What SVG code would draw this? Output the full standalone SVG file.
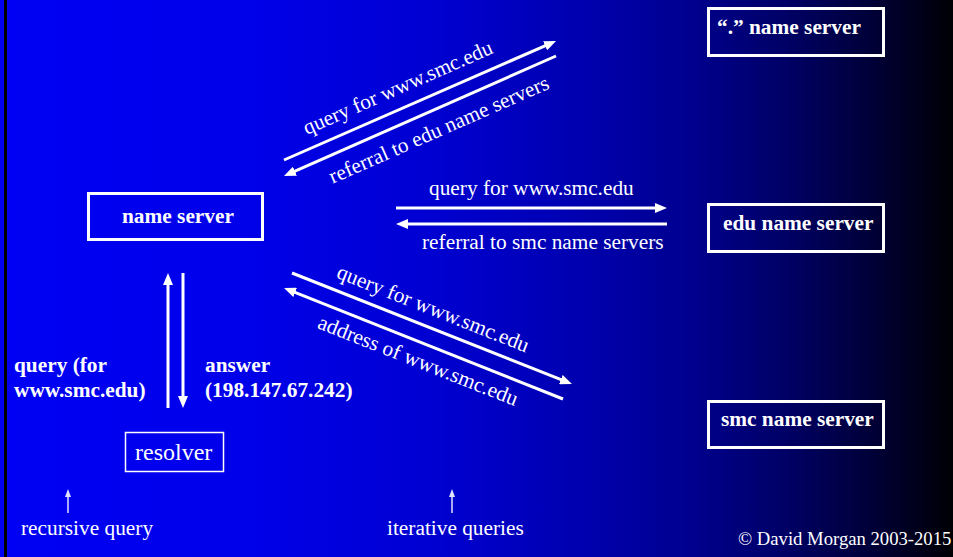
<svg xmlns="http://www.w3.org/2000/svg" width="953" height="557" viewBox="0 0 953 557">
<defs>
<linearGradient id="bg" x1="0" y1="0" x2="1" y2="0">
<stop offset="0" stop-color="#0000F4"/>
<stop offset="0.25" stop-color="#0000EA"/>
<stop offset="0.45" stop-color="#0000D2"/>
<stop offset="0.6" stop-color="#0000B2"/>
<stop offset="0.72" stop-color="#000090"/>
<stop offset="0.82" stop-color="#000068"/>
<stop offset="0.92" stop-color="#000035"/>
<stop offset="1" stop-color="#000004"/>
</linearGradient>
<marker id="ah" markerUnits="userSpaceOnUse" viewBox="0 0 12 10" markerWidth="12" markerHeight="10" refX="3" refY="5" orient="auto">
<path d="M0,0 L12,5 L0,10 z" fill="#FFFFFF"/>
</marker>
<marker id="ahs" markerUnits="userSpaceOnUse" viewBox="0 0 8 6" markerWidth="8" markerHeight="6" refX="2" refY="3" orient="auto">
<path d="M0,0 L8,3 L0,6 z" fill="#E0E0FF"/>
</marker>
</defs>
<style>
.box{fill:none;stroke:#FFFFFF;stroke-width:3}
.lbl{font-family:"Liberation Serif","Times New Roman",serif;font-size:21.33px;fill:#FFFFFF}
.b{font-weight:bold}
.arr{stroke:#FFFFFF;stroke-width:3;fill:none;marker-end:url(#ah)}
.sarr{stroke:#E0E0FF;stroke-width:1.5;fill:none;marker-end:url(#ahs)}
</style>
<rect x="0" y="0" width="953" height="557" fill="url(#bg)"/>
<rect x="4" y="0" width="3" height="557" fill="#000000"/>

<g id="root-ns">
<rect class="box" x="708.5" y="8.5" width="175" height="47"/>
<text class="lbl b" x="717" y="34">“.” name server</text>
</g>
<g id="edu-ns">
<rect class="box" x="708.5" y="204.5" width="175" height="47"/>
<text class="lbl b" x="723" y="230">edu name server</text>
</g>
<g id="smc-ns">
<rect class="box" x="708.5" y="401.5" width="175" height="46"/>
<text class="lbl b" x="721" y="426">smc name server</text>
</g>
<g id="name-server">
<rect class="box" x="88.5" y="193.5" width="174" height="46"/>
<text class="lbl b" x="122" y="223">name server</text>
</g>
<g id="resolver">
<rect x="125.5" y="432.5" width="98" height="39" fill="none" stroke="#FFFFFF" stroke-width="1.5"/>
<text class="lbl" x="135" y="460" style="font-size:24px">resolver</text>
</g>

<g id="connectors">
<line class="arr" x1="284" y1="160" x2="547.8" y2="44.6"/>
<line class="arr" x1="556" y1="56" x2="292.2" y2="172.4"/>
<line class="arr" x1="396" y1="208" x2="658" y2="208"/>
<line class="arr" x1="667" y1="224" x2="405" y2="224"/>
<line class="arr" x1="292" y1="273" x2="563.6" y2="380.7"/>
<line class="arr" x1="563" y1="399" x2="292.4" y2="291.3"/>
<line class="arr" x1="168" y1="408" x2="168" y2="282"/>
<line class="arr" x1="183" y1="273" x2="183" y2="399"/>
<line class="sarr" x1="68" y1="513" x2="68" y2="495"/>
<line class="sarr" x1="452" y1="513" x2="452" y2="495"/>
</g>

<g id="labels">
<text class="lbl" text-anchor="middle" transform="translate(400.6,93.9) rotate(-23.7)">query for www.smc.edu</text>
<text class="lbl" text-anchor="middle" transform="translate(441.6,135.9) rotate(-23.7)">referral to edu name servers</text>
<text class="lbl" x="429" y="195">query for www.smc.edu</text>
<text class="lbl" x="422" y="249">referral to smc name servers</text>
<text class="lbl" text-anchor="middle" transform="translate(430.6,315) rotate(21.6)">query for www.smc.edu</text>
<text class="lbl" text-anchor="middle" transform="translate(415.6,367) rotate(21.6)">address of www.smc.edu</text>
<text class="lbl b" x="14" y="372">query (for</text>
<text class="lbl b" x="14" y="397">www.smc.edu)</text>
<text class="lbl b" x="205" y="372">answer</text>
<text class="lbl b" x="205" y="397">(198.147.67.242)</text>
<text class="lbl" x="21" y="535">recursive query</text>
<text class="lbl" x="387" y="535">iterative queries</text>
<text class="lbl" x="738" y="545" style="font-size:18.67px">© David Morgan 2003-2015</text>
</g>
</svg>
